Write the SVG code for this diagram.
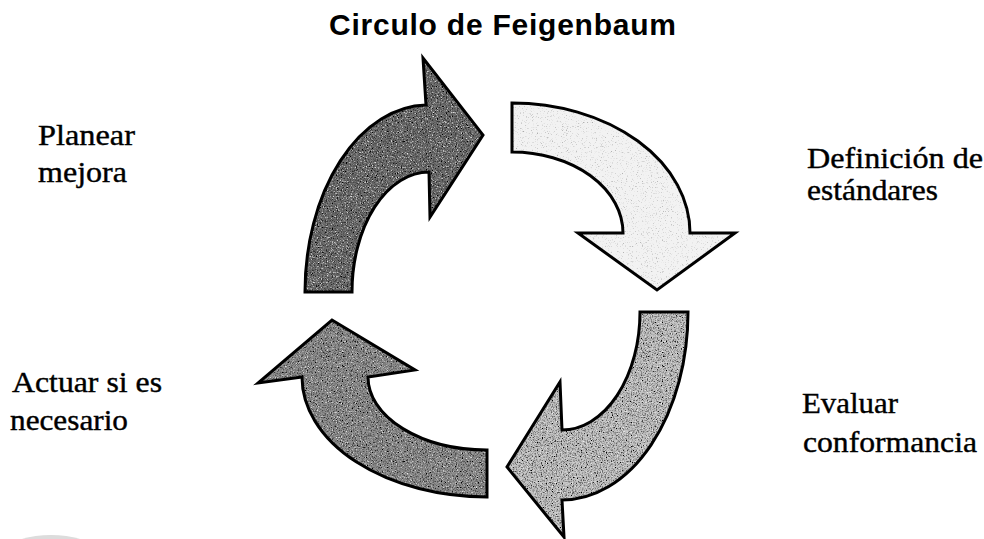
<svg xmlns="http://www.w3.org/2000/svg" width="984" height="539" viewBox="0 0 984 539">
<style>
.title{font-family:"Liberation Sans",Arial,sans-serif;font-weight:bold;font-size:30px;fill:#000}
.lbl{font-family:"Liberation Serif","Times New Roman",serif;font-size:30px;fill:#000;stroke:#000;stroke-width:0.4}
.edge{fill:none;stroke:#000;stroke-width:3;stroke-linejoin:miter}
</style>
<defs>
<filter id="grain" x="0" y="0" width="100%" height="100%">
<feTurbulence type="fractalNoise" baseFrequency="0.8" numOctaves="2" seed="4" result="t"/>
<feColorMatrix in="t" type="matrix" values="0 0 0 0 0  0 0 0 0 0  0 0 0 0 0  3 0 0 0 -1.3" result="dots"/>
<feComposite in="dots" in2="SourceGraphic" operator="in" result="d2"/>
<feColorMatrix in="t" type="matrix" values="0 0 0 0 1  0 0 0 0 1  0 0 0 0 1  0 -3 0 0 1.2" result="wd"/>
<feComposite in="wd" in2="SourceGraphic" operator="in" result="w2"/>
<feMerge><feMergeNode in="SourceGraphic"/><feMergeNode in="d2"/><feMergeNode in="w2"/></feMerge>
</filter>
<filter id="grainLight" x="0" y="0" width="100%" height="100%">
<feTurbulence type="fractalNoise" baseFrequency="0.8" numOctaves="2" seed="7" result="t"/>
<feColorMatrix in="t" type="matrix" values="0 0 0 0 0.4  0 0 0 0 0.4  0 0 0 0 0.4  4 0 0 0 -2.4" result="dots"/>
<feComposite in="dots" in2="SourceGraphic" operator="in" result="d2"/>
<feMerge><feMergeNode in="SourceGraphic"/><feMergeNode in="d2"/></feMerge>
</filter>
</defs>
<rect width="984" height="539" fill="#fff"/>
<ellipse cx="51" cy="548" rx="40" ry="13" fill="#dcdcdc"/>

<g id="title">
<text class="title" x="329" y="35" textLength="347" lengthAdjust="spacing">Circulo de Feigenbaum</text>
</g>

<g id="connectors">
<g id="arrow-planear">
<path d="M305,292 A123,187 0 0 1 426,105 L423,58 L483,135 L430,217 L429,172 A77,120 0 0 0 352,292 Z" fill="#707070" filter="url(#grain)"/>
<path class="edge" d="M305,292 A123,187 0 0 1 426,105 L423,58 L483,135 L430,217 L429,172 A77,120 0 0 0 352,292 Z"/>
</g>
<g id="arrow-definicion">
<path d="M512,103 A178,130 0 0 1 690,233 L735,233 L657,290 L578,233 L623,233 A111,81 0 0 0 512,152 Z" fill="#f2f2f2" filter="url(#grainLight)"/>
<path class="edge" d="M512,103 A178,130 0 0 1 690,233 L735,233 L657,290 L578,233 L623,233 A111,81 0 0 0 512,152 Z"/>
</g>
<g id="arrow-evaluar">
<path d="M688,312 A126,188 0 0 1 562,500 L564,537 L507,467 L560,382 L562,430 A78,118 0 0 0 640,312 Z" fill="#c4c4c4" filter="url(#grain)"/>
<path class="edge" d="M688,312 A126,188 0 0 1 562,500 L564,537 L507,467 L560,382 L562,430 A78,118 0 0 0 640,312 Z"/>
</g>
<g id="arrow-actuar">
<path d="M487,497 A185,120 0 0 1 302,377 L258,383 L332,320 L415,370 L368,377 A119,73 0 0 0 487,450 Z" fill="#8f8f8f" filter="url(#grain)"/>
<path class="edge" d="M487,497 A185,120 0 0 1 302,377 L258,383 L332,320 L415,370 L368,377 A119,73 0 0 0 487,450 Z"/>
</g>
</g>

<g id="node-planear">
<text class="lbl" x="38" y="145" textLength="97" lengthAdjust="spacingAndGlyphs">Planear</text>
<text class="lbl" x="38" y="182" textLength="89" lengthAdjust="spacingAndGlyphs">mejora</text>
</g>
<g id="node-definicion">
<text class="lbl" x="807" y="168" textLength="176" lengthAdjust="spacingAndGlyphs">Definición de</text>
<text class="lbl" x="807" y="200" textLength="131" lengthAdjust="spacingAndGlyphs">estándares</text>
</g>
<g id="node-actuar">
<text class="lbl" x="12" y="392" textLength="150" lengthAdjust="spacingAndGlyphs">Actuar si es</text>
<text class="lbl" x="10" y="430" textLength="118" lengthAdjust="spacingAndGlyphs">necesario</text>
</g>
<g id="node-evaluar">
<text class="lbl" x="802" y="413" textLength="96" lengthAdjust="spacingAndGlyphs">Evaluar</text>
<text class="lbl" x="803" y="452" textLength="174" lengthAdjust="spacingAndGlyphs">conformancia</text>
</g>
</svg>
